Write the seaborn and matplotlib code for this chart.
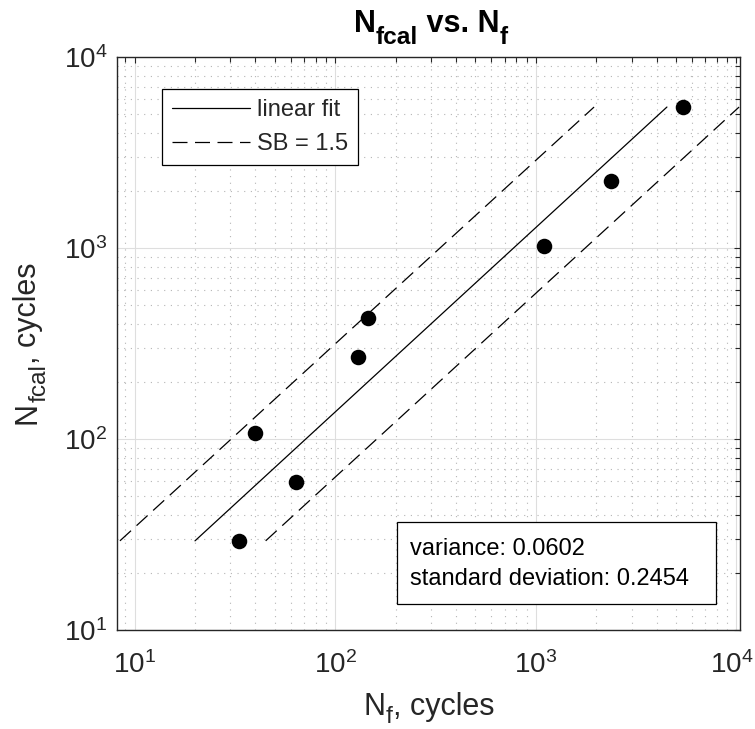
import numpy as np
import pandas as pd
import matplotlib
matplotlib.use("Agg")
import matplotlib.pyplot as plt
import seaborn as sns
from matplotlib.patches import Rectangle
from matplotlib.ticker import LogLocator, NullFormatter
from matplotlib.transforms import ScaledTranslation

# ---- data ----
nf = [33, 40, 64, 130, 145, 1100, 2380, 5400]
nfcal = [29.1, 108, 59.3, 270, 430, 1020, 2230, 5490]

fit_x = [20, 4500]
fit_y = [29.3, 5470]
upper_x = [8.45, 1950]
upper_y = [29.3, 5470]
lower_x = [45, 10300]
lower_y = [29.3, 5470]

variance = "0.0602"
std_dev = "0.2454"

W, H = 755, 729

sns.set_style("white")
plt.rcParams["font.family"] = ["Liberation Sans", "DejaVu Sans"]
plt.rcParams["mathtext.fontset"] = "custom"
plt.rcParams["mathtext.rm"] = "Liberation Sans"
plt.rcParams["mathtext.it"] = "Liberation Sans:italic"
plt.rcParams["mathtext.bf"] = "Liberation Sans:bold"

fig = plt.figure(figsize=(W / 100, H / 100), dpi=100)
ax = fig.add_axes([117 / W, 1 - 630 / H, 623 / W, 573 / H])
ax.set_xscale("log")
ax.set_yscale("log")

df_fit = pd.DataFrame({"x": fit_x, "y": fit_y})
df_up = pd.DataFrame({"x": upper_x, "y": upper_y})
df_lo = pd.DataFrame({"x": lower_x, "y": lower_y})
df_pts = pd.DataFrame({"Nf": nf, "Nfcal": nfcal})

sns.lineplot(data=df_fit, x="x", y="y", ax=ax, color="black", lw=0.9,
             estimator=None, sort=False, label="linear fit")
sns.lineplot(data=df_up, x="x", y="y", ax=ax, color="black", lw=0.9,
             estimator=None, sort=False, label="SB = 1.5")
sns.lineplot(data=df_lo, x="x", y="y", ax=ax, color="black", lw=0.9,
             estimator=None, sort=False, label="_nolegend_")
for ln in ax.get_lines()[1:3]:
    ln.set_dashes((12, 6))
sns.scatterplot(data=df_pts, x="Nf", y="Nfcal", ax=ax, color="black", s=125,
                edgecolor="black", linewidth=0, zorder=5, legend=False)

ax.set_xlim(8.17, 10410)
ax.set_ylim(10, 10000)

ax.xaxis.set_major_locator(LogLocator(base=10, numticks=10))
ax.yaxis.set_major_locator(LogLocator(base=10, numticks=10))
ax.xaxis.set_minor_locator(LogLocator(base=10, subs=np.arange(2, 10), numticks=20))
ax.yaxis.set_minor_locator(LogLocator(base=10, subs=np.arange(2, 10), numticks=20))
ax.xaxis.set_minor_formatter(NullFormatter())
ax.yaxis.set_minor_formatter(NullFormatter())

ax.grid(True, which="major", color="#dedede", lw=0.8, ls="-")
ax.grid(True, which="minor", color="#b5b5b5", lw=0.8, ls=(0, (1, 5)))
ax.set_axisbelow(True)

for sp in ax.spines.values():
    sp.set_color("#262626")
    sp.set_linewidth(1.0)
ax.tick_params(which="both", direction="in", top=True, right=True,
               color="#262626", width=0.8)
ax.tick_params(which="major", length=4.5, labelsize=20, labelcolor="#262626")
ax.tick_params(axis="x", which="major", pad=15)
ax.tick_params(axis="y", which="major", pad=7)
ax.tick_params(which="minor", length=3.5)
ax.set_xlabel("")
ax.set_ylabel("")

leg = ax.legend(loc="upper left", bbox_to_anchor=(0.072, 0.944), borderaxespad=0,
                fontsize=17, frameon=True, fancybox=False, framealpha=1,
                edgecolor="black", handlelength=3.3, handletextpad=0.3,
                labelspacing=0.5, borderpad=0.42)
leg.get_frame().set_linewidth(0.9)

ax.add_patch(Rectangle((0.449, 0.045), 0.512, 0.143, transform=ax.transAxes,
                       facecolor="white", edgecolor="black", lw=0.9, zorder=6))
ax.text(0.470, 0.115, f"variance: {variance}\nstandard deviation: {std_dev}",
        transform=ax.transAxes, fontsize=17, va="center", ha="left",
        linespacing=1.5, zorder=7, color="black")

# keep the right-most x tick label inside the canvas
fig.canvas.draw()
xt_labels = ax.get_xticklabels()
xt_locs = ax.get_xticks()
for loc, lab in zip(xt_locs, xt_labels):
    if abs(loc - 1e4) < 1:
        lab.set_transform(lab.get_transform() +
                          ScaledTranslation(-5 / 100, 0, fig.dpi_scale_trans))

# ---- MATLAB-like text with real subscripts ----
renderer = fig.canvas.get_renderer()


def _width(s, size, weight):
    t = fig.text(0, 0, s, fontsize=size, fontweight=weight)
    w = t.get_window_extent(renderer=renderer).width
    t.remove()
    return w


def _advance(s, size, weight):
    return _width("H" + s + "H", size, weight) - _width("HH", size, weight)


def rich_text(pieces, cx, cy, size, weight="normal", rotation=0,
              sub_scale=0.8, sub_drop=11, color="#262626"):
    """pieces: list of (text, is_sub); cx, cy: centre / baseline in pixels."""
    advs = []
    for s, is_sub in pieces:
        sz = size * sub_scale if is_sub else size
        advs.append(_advance(s, sz, weight))
    total = sum(advs)
    pos = -total / 2
    for (s, is_sub), a in zip(pieces, advs):
        sz = size * sub_scale if is_sub else size
        drop = sub_drop if is_sub else 0
        if rotation == 0:
            x, y = cx + pos, cy - drop
        else:
            x, y = cx + drop, cy + pos
        fig.text(x / W, y / H, s, fontsize=sz, fontweight=weight, color=color,
                 rotation=rotation, rotation_mode="anchor",
                 ha="left", va="baseline")
        pos += a


rich_text([("N", False), ("fcal", True), (" vs. N", False), ("f", True)],
          430.5, H - 32, 22, weight="bold", sub_drop=12, color="black")
rich_text([("N", False), ("f", True), (", cycles", False)],
          429, H - 715, 22, sub_drop=8)
rich_text([("N", False), ("fcal", True), (", cycles", False)],
          36, H - 343, 22, rotation=90, sub_drop=10)

fig.savefig("out.png", dpi=100)
